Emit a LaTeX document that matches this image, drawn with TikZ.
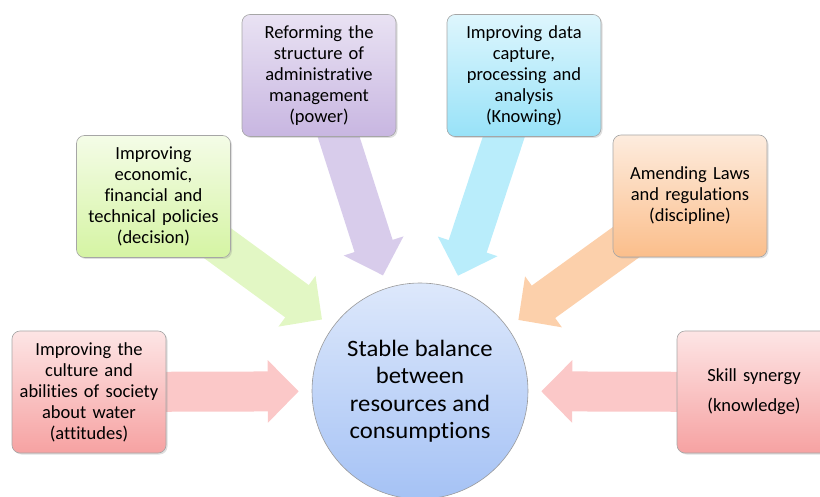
\documentclass[tikz,border=0pt]{standalone}
\usepackage{fontspec}
\setmainfont[Ligatures=NoCommon]{Carlito}
\newfontfamily\hubfont[FakeStretch=1.05,Ligatures=NoCommon]{Carlito}
\usetikzlibrary{arrows.meta,shadows,backgrounds}

% box colours, top and bottom of the gradient
\definecolor{purpleTop}{HTML}{E9E2F3}
\definecolor{purpleBot}{HTML}{C8B6E1}
\definecolor{cyanTop}{HTML}{DEF6FD}
\definecolor{cyanBot}{HTML}{98E2F8}
\definecolor{greenTop}{HTML}{F4FCE7}
\definecolor{greenBot}{HTML}{D5F4A3}
\definecolor{orangeTop}{HTML}{FDECDE}
\definecolor{orangeBot}{HTML}{FBBE8B}
\definecolor{redTop}{HTML}{FDE5E5}
\definecolor{redBot}{HTML}{F6A2A2}
\definecolor{hubTop}{HTML}{DDE8FB}
\definecolor{hubBot}{HTML}{A5C2F5}
% arrow colours
\definecolor{purpleArr}{HTML}{D8CCEB}
\definecolor{cyanArr}{HTML}{B9EDFB}
\definecolor{greenArr}{HTML}{E2F7C4}
\definecolor{orangeArr}{HTML}{FCD0AB}
\definecolor{redArr}{HTML}{FBC8C8}

\tikzset{
  box/.style={draw=gray!70, line width=.6pt, rounded corners=8pt,
    minimum width=154pt, minimum height=122pt, text width=146pt,
    align=center, font=\fontsize{18.5}{21}\selectfont,
    drop shadow={opacity=.25, shadow xshift=1.5pt, shadow yshift=-1.5pt}},
  flow/.style={line width=40pt, -{Triangle[width=61pt,length=31pt]},
    shorten >=13pt},
}

\begin{document}
\begin{tikzpicture}[x=1pt, y=-1pt]
    \useasboundingbox (0,0) rectangle (820,497);
    % centre
    \node[circle, draw=gray!80, line width=.6pt, minimum size=216pt,
      top color=hubTop, bottom color=hubBot, align=center,
      font=\hubfont\fontsize{23.5}{27.5}\selectfont] (hub) at (420,391)
      {Stable balance\\ between\\ resources and\\ consumptions};
    % the six measures
    \node[box, top color=purpleTop, bottom color=purpleBot] (adm) at (319,75.5)
      {Reforming the\\ structure of\\ administrative\\ management\\ (power)};
    \node[box, top color=cyanTop, bottom color=cyanBot] (data) at (524,75.5)
      {Improving data\\ capture,\\ processing and\\ analysis\\ (Knowing)};
    \node[box, top color=greenTop, bottom color=greenBot] (pol) at (153.5,196.5)
      {Improving\\ economic,\\ financial and\\ technical policies\\ (decision)};
    \node[box, top color=orangeTop, bottom color=orangeBot] (law) at (690,196)
      {Amending Laws\\ and regulations\\ (discipline)};
    \node[box, top color=redTop, bottom color=redBot] (cul) at (89,392)
      {Improving the\\ culture and\\ abilities of society\\ about water\\ (attitudes)};
    \node[box, top color=redTop, bottom color=redBot] (skill) at (754,392)
      {Skill synergy\\[9pt] (knowledge)};

    % block arrows behind the boxes
    \begin{scope}[on background layer]
      \draw[flow, purpleArr] (adm.center) -- (hub);
      \draw[flow, cyanArr] (data.center) -- (hub);
      \draw[flow, greenArr] (pol.center) -- (hub);
      \draw[flow, orangeArr] (law.center) -- (hub);
      \draw[flow, redArr] (cul.center) -- (hub);
      \draw[flow, redArr] (skill.center) -- (hub);
    \end{scope}
\end{tikzpicture}
\end{document}
